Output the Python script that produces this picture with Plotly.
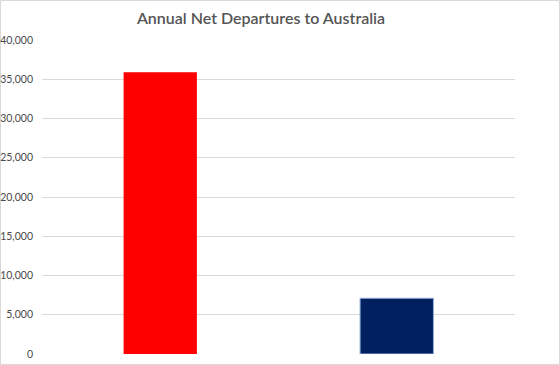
import plotly.graph_objects as go

categories = ["Series 1", "Series 2"]
values = [35900, 7100]
colors = ["#FF0000", "#002060"]
tick_vals = [0, 5000, 10000, 15000, 20000, 25000, 30000, 35000, 40000]
tick_text = ["0", "5,000", "10,000", "15,000", "20,000", "25,000", "30,000", "35,000", "40,000"]

W, H = 560, 365
L, R, T, B = 42, 45, 40, 11

fig = go.Figure(go.Bar(
    x=categories, y=values,
    marker=dict(color=colors, line=dict(color=["#FF0000", "#8FA9D6"], width=[0, 1])),
    width=0.31,
))

fig.update_layout(
    width=W, height=H,
    margin=dict(l=L, r=R, t=T, b=B, autoexpand=False),
    paper_bgcolor="white", plot_bgcolor="white",
    showlegend=False,
    font=dict(family="Lato, Carlito, sans-serif", color="#595959"),
    title=dict(text="Annual Net Departures to Australia", x=261 / W, xanchor="center",
               y=1 - 18 / H, yanchor="middle",
               font=dict(size=16, color="#555555", family="Lato, sans-serif", weight=600)),
    xaxis=dict(showticklabels=False, showgrid=False, zeroline=False, showline=False, ticks="",
               automargin=False),
    yaxis=dict(range=[0, 40000], tickvals=tick_vals, ticktext=tick_text,
               showgrid=True, gridcolor="#D9D9D9", gridwidth=1, zeroline=False,
               showline=False, ticks="", tickfont=dict(size=10.5, color="#4a4a4a"),
               ticklabelstandoff=8, automargin=False),
    shapes=[dict(type="rect", xref="paper", yref="paper",
                 x0=-(L - 0.5) / (W - L - R), x1=1 + (R - 0.5) / (W - L - R),
                 y0=-(B - 0.5) / (H - T - B), y1=1 + (T - 0.5) / (H - T - B),
                 line=dict(color="#D9D9D9", width=1), fillcolor="rgba(0,0,0,0)", layer="below")],
)

fig.write_html("out.html", config={"displayModeBar": False},
               post_script="document.body.style.margin='0';document.body.style.overflow='hidden';")
